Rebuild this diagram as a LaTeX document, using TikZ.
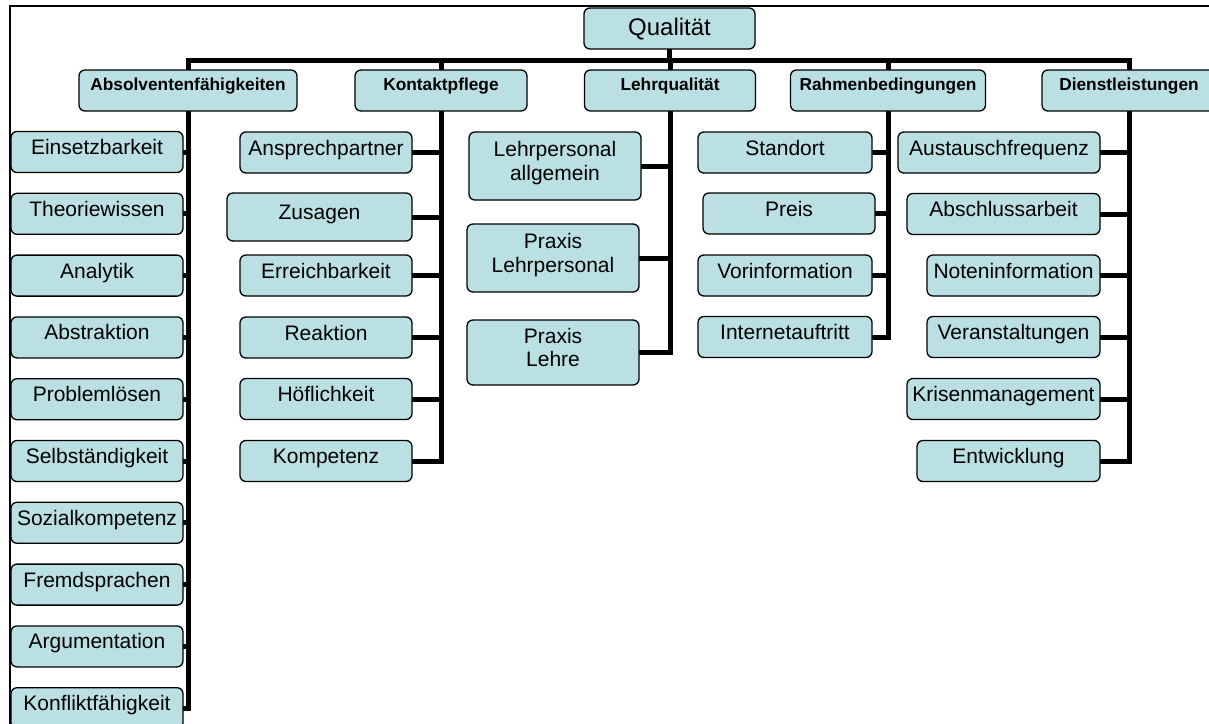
\documentclass[tikz,border=0pt]{standalone}
\usepackage{fontspec}
\setmainfont{Liberation Sans}
\usetikzlibrary{backgrounds}
\definecolor{boxfill}{RGB}{186,224,227}
\begin{document}
\begin{tikzpicture}[x=1pt,y=-1pt,
  box/.style={draw=black, line width=1.3pt, fill=boxfill, rounded corners=6pt, inner sep=2pt, anchor=center},
  leaf/.style={box, font=\fontsize{21}{23.5}\selectfont, text height=15pt, text depth=10pt, minimum height=41pt},
  twoline/.style={leaf, text height=20pt, text depth=14pt},
  head/.style={box, font=\fontsize{17.3}{20}\selectfont\bfseries, text height=11pt, text depth=12pt, minimum height=41pt},
  topbox/.style={box, font=\fontsize{24}{28}\selectfont, text height=18pt, text depth=4pt, minimum height=41pt},
  conn/.style={line width=5pt, line cap=rect, line join=miter},
  frameline/.style={line width=2pt}]
\useasboundingbox (0,0) rectangle (1209,723);
\draw[frameline] (10,740) -- (10,6) -- (1230,6);
\coordinate (bus) at (0,60);

% top
\node[topbox, minimum width=171pt] (q) at (669.5,28.5) {Qualität};
% headings
\node[head, minimum width=218pt] (h1) at (188,90.5) {Absolventenfähigkeiten};
\node[head, minimum width=172pt] (h2) at (441,90.5) {Kontaktpflege};
\node[head, minimum width=171pt] (h3) at (670,90.5) {Lehrqualität};
\node[head, minimum width=195pt] (h4) at (888,90.5) {Rahmenbedingungen};
\node[head, minimum width=174pt] (h5) at (1129,90.5) {Dienstleistungen};

% Absolventenfaehigkeiten
\foreach \n/\t [count=\i] in {a1/Einsetzbarkeit, a2/Theoriewissen, a3/Analytik, a4/Abstraktion, a5/Problemlösen, a6/Selbständigkeit, a7/Sozialkompetenz, a8/Fremdsprachen, a9/Argumentation, a10/Konfliktfähigkeit}
  \node[leaf, minimum width=172pt] (\n) at (97,{152+(\i-1)*61.8}) {\t};

% Kontaktpflege
\node[leaf, minimum width=172pt] (k1) at (326,152.5) {Ansprechpartner};
\node[leaf, minimum width=185pt, minimum height=48pt] (k2) at (319.5,217) {Zusagen};
\node[leaf, minimum width=172pt] (k3) at (326,275.5) {Erreichbarkeit};
\node[leaf, minimum width=172pt] (k4) at (326,337.5) {Reaktion};
\node[leaf, minimum width=172pt] (k5) at (326,399) {Höflichkeit};
\node[leaf, minimum width=172pt] (k6) at (326,461) {Kompetenz};

% Lehrqualitaet
\node[twoline, minimum width=172pt, minimum height=68pt] (l1) at (555,166) {\begin{tabular}{@{}c@{}}Lehrpersonal\\allgemein\end{tabular}};
\node[twoline, minimum width=172pt, minimum height=68pt] (l2) at (553,258) {\begin{tabular}{@{}c@{}}Praxis\\Lehrpersonal\end{tabular}};
\node[twoline, minimum width=172pt, minimum height=65pt] (l3) at (553,352.5) {\begin{tabular}{@{}c@{}}Praxis\\Lehre\end{tabular}};

% Rahmenbedingungen
\node[leaf, minimum width=174pt] (r1) at (785,152.5) {Standort};
\node[leaf, minimum width=172pt] (r2) at (789,213.5) {Preis};
\node[leaf, minimum width=174pt] (r3) at (785,275.5) {Vorinformation};
\node[leaf, minimum width=174pt] (r4) at (785,337) {Internetauftritt};

% Dienstleistungen
\node[leaf, minimum width=202pt] (d1) at (999,152.5) {Austauschfrequenz};
\node[leaf, minimum width=193pt] (d2) at (1003.5,214) {Abschlussarbeit};
\node[leaf, minimum width=173pt] (d3) at (1013.5,275.5) {Noteninformation};
\node[leaf, minimum width=173pt] (d4) at (1013.5,337) {Veranstaltungen};
\node[leaf, minimum width=193pt] (d5) at (1003.5,399) {Krisenmanagement};
\node[leaf, minimum width=183pt] (d6) at (1008.5,461) {Entwicklung};

\begin{scope}[on background layer]
  \draw[conn] (h1 |- bus) -- (h5 |- bus);
  \draw[conn] (q.south) -- (q |- bus);
  \draw[conn] (h1 |- bus) -- (h1 |- a10) -- (a10.east);
  \foreach \i in {1,...,9} \draw[conn] (a\i.east) -- (a\i -| h1);
  \draw[conn] (h2 |- bus) -- (h2 |- k6) -- (k6.east);
  \foreach \i in {1,...,5} \draw[conn] (k\i.east) -- (k\i -| h2);
  \draw[conn] (h3 |- bus) -- (h3 |- l3) -- (l3.east);
  \foreach \i in {1,2} \draw[conn] (l\i.east) -- (l\i -| h3);
  \draw[conn] (h4 |- bus) -- (h4 |- r4) -- (r4.east);
  \foreach \i in {1,2,3} \draw[conn] (r\i.east) -- (r\i -| h4);
  \draw[conn] (h5 |- bus) -- (h5 |- d6) -- (d6.east);
  \foreach \i in {1,...,5} \draw[conn] (d\i.east) -- (d\i -| h5);
\end{scope}
\end{tikzpicture}
\end{document}
